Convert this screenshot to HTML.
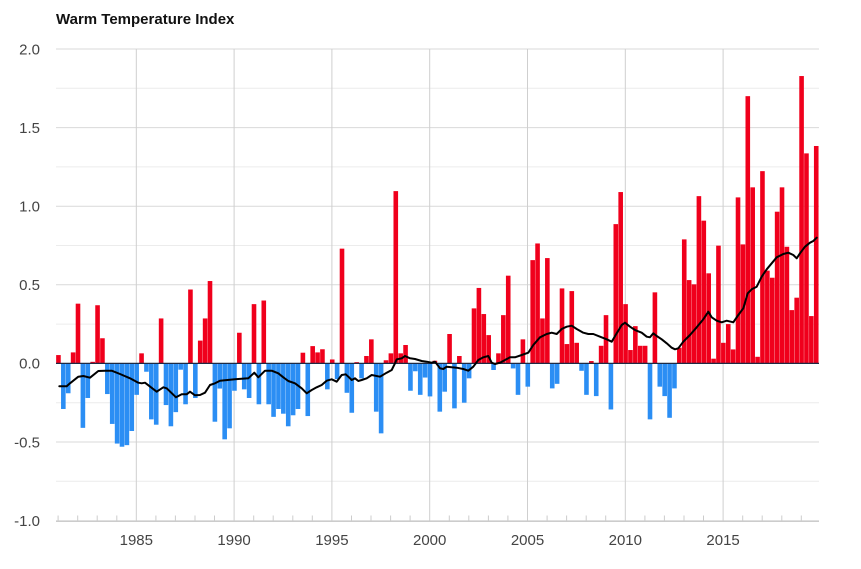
<!DOCTYPE html>
<html><head><meta charset="utf-8"><style>
html,body{margin:0;padding:0;background:#fff;}
svg{display:block;}
text{font-family:"Liberation Sans",Arial,sans-serif;}
</style></head><body>
<svg width="861" height="569" viewBox="0 0 861 569" xmlns="http://www.w3.org/2000/svg">
<rect width="861" height="569" fill="#fff"/>
<text x="56" y="24" font-size="15" font-weight="bold" fill="#111">Warm Temperature Index</text>
<!-- minor gridlines -->
<g stroke="#ececec" stroke-width="1">
<line x1="56" x2="819" y1="88.3" y2="88.3"/><line x1="56" x2="819" y1="166.9" y2="166.9"/>
<line x1="56" x2="819" y1="245.5" y2="245.5"/><line x1="56" x2="819" y1="324.1" y2="324.1"/>
<line x1="56" x2="819" y1="402.7" y2="402.7"/><line x1="56" x2="819" y1="481.3" y2="481.3"/>
</g>
<g stroke="#d9d9d9" stroke-width="1">
<line x1="56" x2="819" y1="49" y2="49"/><line x1="56" x2="819" y1="127.6" y2="127.6"/>
<line x1="56" x2="819" y1="206.2" y2="206.2"/><line x1="56" x2="819" y1="284.8" y2="284.8"/>
<line x1="56" x2="819" y1="442" y2="442"/>
</g>
<g stroke="#cfcfcf" stroke-width="1">
<line x1="136.3" x2="136.3" y1="49" y2="522"/><line x1="234.1" x2="234.1" y1="49" y2="522"/>
<line x1="331.9" x2="331.9" y1="49" y2="522"/><line x1="429.7" x2="429.7" y1="49" y2="522"/>
<line x1="527.5" x2="527.5" y1="49" y2="522"/><line x1="625.3" x2="625.3" y1="49" y2="522"/>
<line x1="723.1" x2="723.1" y1="49" y2="522"/>
</g>
<line x1="56" x2="819" y1="521.2" y2="521.2" stroke="#cccccc" stroke-width="1.6"/>
<g stroke="#cccccc" stroke-width="1">
<line x1="58.1" x2="58.1" y1="515.5" y2="521"/><line x1="77.7" x2="77.7" y1="515.5" y2="521"/><line x1="97.2" x2="97.2" y1="515.5" y2="521"/><line x1="116.8" x2="116.8" y1="515.5" y2="521"/>
<line x1="155.9" x2="155.9" y1="515.5" y2="521"/><line x1="175.4" x2="175.4" y1="515.5" y2="521"/><line x1="195" x2="195" y1="515.5" y2="521"/><line x1="214.5" x2="214.5" y1="515.5" y2="521"/>
<line x1="253.7" x2="253.7" y1="515.5" y2="521"/><line x1="273.2" x2="273.2" y1="515.5" y2="521"/><line x1="292.8" x2="292.8" y1="515.5" y2="521"/><line x1="312.3" x2="312.3" y1="515.5" y2="521"/>
<line x1="351.5" x2="351.5" y1="515.5" y2="521"/><line x1="371" x2="371" y1="515.5" y2="521"/><line x1="390.6" x2="390.6" y1="515.5" y2="521"/><line x1="410.1" x2="410.1" y1="515.5" y2="521"/>
<line x1="449.3" x2="449.3" y1="515.5" y2="521"/><line x1="468.8" x2="468.8" y1="515.5" y2="521"/><line x1="488.4" x2="488.4" y1="515.5" y2="521"/><line x1="507.9" x2="507.9" y1="515.5" y2="521"/>
<line x1="547.1" x2="547.1" y1="515.5" y2="521"/><line x1="566.6" x2="566.6" y1="515.5" y2="521"/><line x1="586.2" x2="586.2" y1="515.5" y2="521"/><line x1="605.7" x2="605.7" y1="515.5" y2="521"/>
<line x1="644.9" x2="644.9" y1="515.5" y2="521"/><line x1="664.4" x2="664.4" y1="515.5" y2="521"/><line x1="684" x2="684" y1="515.5" y2="521"/><line x1="703.5" x2="703.5" y1="515.5" y2="521"/>
<line x1="742.7" x2="742.7" y1="515.5" y2="521"/><line x1="762.2" x2="762.2" y1="515.5" y2="521"/><line x1="781.8" x2="781.8" y1="515.5" y2="521"/><line x1="801.3" x2="801.3" y1="515.5" y2="521"/>
</g>
<!-- y labels -->
<g font-size="15" fill="#444" text-anchor="end">
<text x="40" y="54.3">2.0</text><text x="40" y="132.9">1.5</text><text x="40" y="211.5">1.0</text>
<text x="40" y="290.1">0.5</text><text x="40" y="368.7">0.0</text><text x="40" y="447.3">-0.5</text><text x="40" y="525.9">-1.0</text>
</g>
<g font-size="15" fill="#444" text-anchor="middle">
<text x="136.3" y="545">1985</text><text x="234.1" y="545">1990</text><text x="331.9" y="545">1995</text>
<text x="429.7" y="545">2000</text><text x="527.5" y="545">2005</text><text x="625.3" y="545">2010</text><text x="723.1" y="545">2015</text>
</g>
<!-- bars -->
<g transform="translate(56,363.4) scale(4.889,-157.2)">
<g fill="#f0001c">
<rect x="0.03" y="0" width="0.94" height="0.053"/><rect x="3.03" y="0" width="0.94" height="0.07"/><rect x="4.03" y="0" width="0.94" height="0.38"/><rect x="7.03" y="0" width="0.94" height="0.01"/><rect x="8.03" y="0" width="0.94" height="0.37"/><rect x="9.03" y="0" width="0.94" height="0.16"/>
<rect x="17.03" y="0" width="0.94" height="0.064"/><rect x="21.03" y="0" width="0.94" height="0.286"/><rect x="27.03" y="0" width="0.94" height="0.47"/><rect x="29.03" y="0" width="0.94" height="0.145"/><rect x="30.03" y="0" width="0.94" height="0.286"/><rect x="31.03" y="0" width="0.94" height="0.524"/>
<rect x="37.03" y="0" width="0.94" height="0.195"/><rect x="40.03" y="0" width="0.94" height="0.377"/><rect x="42.03" y="0" width="0.94" height="0.40"/>
<rect x="50.03" y="0" width="0.94" height="0.068"/><rect x="52.03" y="0" width="0.94" height="0.11"/><rect x="53.03" y="0" width="0.94" height="0.07"/><rect x="54.03" y="0" width="0.94" height="0.09"/><rect x="56.03" y="0" width="0.94" height="0.025"/><rect x="58.03" y="0" width="0.94" height="0.73"/>
<rect x="61.03" y="0" width="0.94" height="0.008"/><rect x="63.03" y="0" width="0.94" height="0.047"/><rect x="64.03" y="0" width="0.94" height="0.153"/><rect x="67.03" y="0" width="0.94" height="0.02"/><rect x="68.03" y="0" width="0.94" height="0.064"/><rect x="69.03" y="0" width="0.94" height="1.096"/><rect x="70.03" y="0" width="0.94" height="0.064"/><rect x="71.03" y="0" width="0.94" height="0.117"/>
<rect x="77.03" y="0" width="0.94" height="0.017"/><rect x="80.03" y="0" width="0.94" height="0.187"/><rect x="82.03" y="0" width="0.94" height="0.047"/><rect x="85.03" y="0" width="0.94" height="0.35"/><rect x="86.03" y="0" width="0.94" height="0.48"/><rect x="87.03" y="0" width="0.94" height="0.314"/><rect x="88.03" y="0" width="0.94" height="0.18"/>
<rect x="90.03" y="0" width="0.94" height="0.064"/><rect x="91.03" y="0" width="0.94" height="0.307"/><rect x="92.03" y="0" width="0.94" height="0.558"/><rect x="95.03" y="0" width="0.94" height="0.153"/><rect x="97.03" y="0" width="0.94" height="0.657"/><rect x="98.03" y="0" width="0.94" height="0.763"/><rect x="99.03" y="0" width="0.94" height="0.286"/><rect x="100.03" y="0" width="0.94" height="0.67"/>
<rect x="103.03" y="0" width="0.94" height="0.477"/><rect x="104.03" y="0" width="0.94" height="0.123"/><rect x="105.03" y="0" width="0.94" height="0.46"/><rect x="106.03" y="0" width="0.94" height="0.131"/><rect x="109.03" y="0" width="0.94" height="0.015"/><rect x="111.03" y="0" width="0.94" height="0.112"/><rect x="112.03" y="0" width="0.94" height="0.307"/>
<rect x="114.03" y="0" width="0.94" height="0.886"/><rect x="115.03" y="0" width="0.94" height="1.09"/><rect x="116.03" y="0" width="0.94" height="0.377"/><rect x="117.03" y="0" width="0.94" height="0.085"/><rect x="118.03" y="0" width="0.94" height="0.237"/><rect x="119.03" y="0" width="0.94" height="0.112"/><rect x="120.03" y="0" width="0.94" height="0.112"/><rect x="122.03" y="0" width="0.94" height="0.452"/>
<rect x="127.03" y="0" width="0.94" height="0.1"/><rect x="128.03" y="0" width="0.94" height="0.789"/><rect x="129.03" y="0" width="0.94" height="0.53"/><rect x="130.03" y="0" width="0.94" height="0.503"/><rect x="131.03" y="0" width="0.94" height="1.064"/><rect x="132.03" y="0" width="0.94" height="0.908"/><rect x="133.03" y="0" width="0.94" height="0.573"/><rect x="134.03" y="0" width="0.94" height="0.03"/>
<rect x="135.03" y="0" width="0.94" height="0.749"/><rect x="136.03" y="0" width="0.94" height="0.131"/><rect x="137.03" y="0" width="0.94" height="0.25"/><rect x="138.03" y="0" width="0.94" height="0.089"/><rect x="139.03" y="0" width="0.94" height="1.056"/><rect x="140.03" y="0" width="0.94" height="0.757"/><rect x="141.03" y="0" width="0.94" height="1.70"/><rect x="142.03" y="0" width="0.94" height="1.12"/>
<rect x="143.03" y="0" width="0.94" height="0.042"/><rect x="144.03" y="0" width="0.94" height="1.223"/><rect x="145.03" y="0" width="0.94" height="0.59"/><rect x="146.03" y="0" width="0.94" height="0.545"/><rect x="147.03" y="0" width="0.94" height="0.965"/><rect x="148.03" y="0" width="0.94" height="1.12"/><rect x="149.03" y="0" width="0.94" height="0.742"/>
<rect x="150.03" y="0" width="0.94" height="0.339"/><rect x="151.03" y="0" width="0.94" height="0.418"/><rect x="152.03" y="0" width="0.94" height="1.828"/><rect x="153.03" y="0" width="0.94" height="1.336"/><rect x="154.03" y="0" width="0.94" height="0.301"/><rect x="155.03" y="0" width="0.94" height="1.383"/>
</g>
<g fill="#2b8ef4">
<rect x="1.03" y="-0.29" width="0.94" height="0.29"/><rect x="2.03" y="-0.19" width="0.94" height="0.19"/><rect x="5.03" y="-0.41" width="0.94" height="0.41"/><rect x="6.03" y="-0.22" width="0.94" height="0.22"/>
<rect x="10.03" y="-0.195" width="0.94" height="0.195"/><rect x="11.03" y="-0.385" width="0.94" height="0.385"/><rect x="12.03" y="-0.51" width="0.94" height="0.51"/><rect x="13.03" y="-0.53" width="0.94" height="0.53"/><rect x="14.03" y="-0.52" width="0.94" height="0.52"/><rect x="15.03" y="-0.43" width="0.94" height="0.43"/><rect x="16.03" y="-0.20" width="0.94" height="0.20"/>
<rect x="18.03" y="-0.053" width="0.94" height="0.053"/><rect x="19.03" y="-0.356" width="0.94" height="0.356"/><rect x="20.03" y="-0.39" width="0.94" height="0.39"/>
<rect x="22.03" y="-0.265" width="0.94" height="0.265"/><rect x="23.03" y="-0.40" width="0.94" height="0.40"/><rect x="24.03" y="-0.31" width="0.94" height="0.31"/><rect x="25.03" y="-0.04" width="0.94" height="0.04"/><rect x="26.03" y="-0.26" width="0.94" height="0.26"/><rect x="28.03" y="-0.22" width="0.94" height="0.22"/>
<rect x="32.03" y="-0.371" width="0.94" height="0.371"/><rect x="33.03" y="-0.16" width="0.94" height="0.16"/><rect x="34.03" y="-0.483" width="0.94" height="0.483"/><rect x="35.03" y="-0.413" width="0.94" height="0.413"/><rect x="36.03" y="-0.174" width="0.94" height="0.174"/>
<rect x="38.03" y="-0.165" width="0.94" height="0.165"/><rect x="39.03" y="-0.22" width="0.94" height="0.22"/><rect x="41.03" y="-0.26" width="0.94" height="0.26"/>
<rect x="43.03" y="-0.26" width="0.94" height="0.26"/><rect x="44.03" y="-0.34" width="0.94" height="0.34"/><rect x="45.03" y="-0.29" width="0.94" height="0.29"/><rect x="46.03" y="-0.32" width="0.94" height="0.32"/><rect x="47.03" y="-0.40" width="0.94" height="0.40"/><rect x="48.03" y="-0.33" width="0.94" height="0.33"/><rect x="49.03" y="-0.29" width="0.94" height="0.29"/>
<rect x="51.03" y="-0.335" width="0.94" height="0.335"/><rect x="55.03" y="-0.165" width="0.94" height="0.165"/><rect x="57.03" y="-0.10" width="0.94" height="0.10"/><rect x="59.03" y="-0.187" width="0.94" height="0.187"/><rect x="60.03" y="-0.314" width="0.94" height="0.314"/><rect x="62.03" y="-0.095" width="0.94" height="0.095"/>
<rect x="65.03" y="-0.307" width="0.94" height="0.307"/><rect x="66.03" y="-0.445" width="0.94" height="0.445"/>
<rect x="72.03" y="-0.174" width="0.94" height="0.174"/><rect x="73.03" y="-0.05" width="0.94" height="0.05"/><rect x="74.03" y="-0.2" width="0.94" height="0.2"/><rect x="75.03" y="-0.09" width="0.94" height="0.09"/><rect x="76.03" y="-0.21" width="0.94" height="0.21"/>
<rect x="78.03" y="-0.307" width="0.94" height="0.307"/><rect x="79.03" y="-0.18" width="0.94" height="0.18"/><rect x="81.03" y="-0.286" width="0.94" height="0.286"/><rect x="83.03" y="-0.25" width="0.94" height="0.25"/><rect x="84.03" y="-0.095" width="0.94" height="0.095"/>
<rect x="89.03" y="-0.042" width="0.94" height="0.042"/><rect x="93.03" y="-0.032" width="0.94" height="0.032"/><rect x="94.03" y="-0.2" width="0.94" height="0.2"/><rect x="96.03" y="-0.148" width="0.94" height="0.148"/>
<rect x="101.03" y="-0.159" width="0.94" height="0.159"/><rect x="102.03" y="-0.13" width="0.94" height="0.13"/><rect x="107.03" y="-0.047" width="0.94" height="0.047"/><rect x="108.03" y="-0.2" width="0.94" height="0.2"/><rect x="110.03" y="-0.208" width="0.94" height="0.208"/><rect x="113.03" y="-0.293" width="0.94" height="0.293"/>
<rect x="121.03" y="-0.356" width="0.94" height="0.356"/><rect x="123.03" y="-0.148" width="0.94" height="0.148"/><rect x="124.03" y="-0.208" width="0.94" height="0.208"/><rect x="125.03" y="-0.346" width="0.94" height="0.346"/><rect x="126.03" y="-0.159" width="0.94" height="0.159"/>
</g>
</g>
<line x1="56" x2="819" y1="363.4" y2="363.4" stroke="#1e2a44" stroke-width="1.2"/>
<polyline fill="none" stroke="#000" stroke-width="2" stroke-linejoin="round" stroke-linecap="round" points="59.3,386.3 66.7,386.3 70,383.3 78.3,376.7 83.3,376 90,377.7 98.3,371 105,370.7 111.7,370.7 120,374 130,378.3 138.3,382.7 141.7,383.3 145,382.7 156.7,391.7 163.3,387.3 166.7,388.3 176,397.3 181.7,394.3 186.7,394.3 190,391.7 195,395.3 200,395 205,392.7 210,385 215,383.3 220,380.7 235,379.3 241.7,378.7 248.3,378.3 254.3,372.7 258.3,377.3 265,370.7 271.7,370.7 278.3,373.3 283.3,377.3 288.3,381 295,383.3 301.7,388.3 306.7,393.3 311.7,390 316.7,387.3 321.7,385 326.7,380.7 331.7,379.3 336.7,381.7 341.7,375 345.7,374.3 348.3,376.7 351.7,380 355,378.3 358.3,381 361.7,380 366.7,378.3 371.7,375 380,376.7 386.7,372.7 391.7,370 395,363.3 396.7,359.3 401.7,358.3 405,356 410,358.3 415,359 421.7,361 426.7,361.7 431.7,362.7 435,361.7 440,368.3 443.3,369 446.7,366.7 451.7,367.3 456.7,367.7 463.3,369 468.3,370.7 473.3,366.7 478.3,360 483.3,357.3 488.3,356 491.7,362.7 495,364 500,362.7 505,360 510,357.3 515,357.3 521.7,355 528.3,352.7 533.3,345 540,337.3 546.7,334 551.7,332.7 556.7,334 561.7,329 566.7,326.7 571.7,325.7 576.7,329 583.3,332.7 588.3,334 593.3,334 600,336.7 606.7,339.3 611.7,341.7 616.7,333.3 621.7,325 625,322.7 630,326.7 635,330 641.7,332.7 646.7,336.7 650,337.3 653.3,333.3 656.7,336 661.7,339.3 666.7,343.3 671.7,347.7 675,349.3 678.3,348.3 683.3,341.7 690,335 696.7,327.3 703.3,319.3 708.3,311.7 711.7,317.3 716.7,320.7 721.7,322.3 726.7,320.7 733.3,322.3 738.3,315 743.3,308.3 747.7,293.3 751.7,289.3 756.7,286.7 761.7,276.7 766.7,269.3 771.7,263.3 776.7,257.3 783.3,254 788.3,252.7 793.3,255 796.7,258.3 800,253.3 805,246.7 810,242.7 813.3,241 816.7,237.7"/>
</svg>
</body></html>
